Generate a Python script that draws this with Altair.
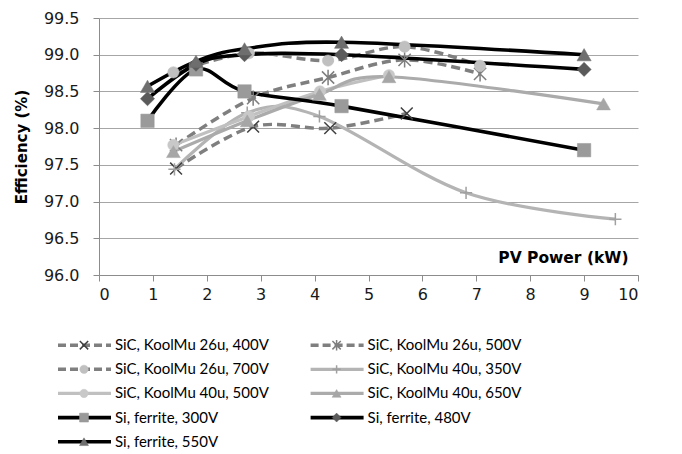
import altair as alt
import pandas as pd

# ---------------- data ----------------
names = [
    "SiC, KoolMu 26u, 400V", "SiC, KoolMu 26u, 500V",
    "SiC, KoolMu 26u, 700V", "SiC, KoolMu 40u, 350V",
    "SiC, KoolMu 40u, 500V", "SiC, KoolMu 40u, 650V",
    "Si, ferrite, 300V", "Si, ferrite, 480V",
    "Si, ferrite, 550V",
]

sic26_400_x = [1.43, 2.86, 4.29, 5.71]
sic26_400_y = [97.45, 98.02, 98.00, 98.20]
sic26_500_x = [1.43, 2.86, 4.25, 5.67, 7.07]
sic26_500_y = [97.77, 98.41, 98.69, 98.93, 98.74]
sic26_700_x = [1.38, 2.78, 4.25, 5.67, 7.07]
sic26_700_y = [98.76, 99.02, 98.92, 99.11, 98.85]
sic40_350_x = [1.40, 2.75, 4.09, 6.81, 9.58]
sic40_350_y = [97.44, 98.21, 98.16, 97.12, 96.76]
sic40_500_x = [1.38, 2.78, 4.10, 5.38]
sic40_500_y = [97.77, 98.16, 98.50, 98.72]
sic40_650_x = [1.38, 2.75, 4.09, 5.38, 9.36]
sic40_650_y = [97.68, 98.10, 98.46, 98.70, 98.33]
si_x = [0.9, 1.8, 2.7, 4.5, 9.0]
si_300_y = [98.10, 98.80, 98.50, 98.30, 97.70]
si_480_y = [98.40, 98.87, 99.00, 99.00, 98.80]
si_550_y = [98.57, 98.91, 99.08, 99.17, 99.00]

series_xy = [
    (sic26_400_x, sic26_400_y), (sic26_500_x, sic26_500_y),
    (sic26_700_x, sic26_700_y), (sic40_350_x, sic40_350_y),
    (sic40_500_x, sic40_500_y), (sic40_650_x, sic40_650_y),
    (si_x, si_300_y), (si_x, si_480_y), (si_x, si_550_y),
]

x_ticks = list(range(0, 11))
y_ticks = [96.0, 96.5, 97.0, 97.5, 98.0, 98.5, 99.0, 99.5]

# ---------------- styles ----------------
X_PATH = "M-1,-1L1,1M-1,1L1,-1"
AST_PATH = "M-1,-1L1,1M-1,1L1,-1M0,-1.25L0,1.25"
PLUS_PATH = "M-1,0L1,0M0,-1L0,1"
DASH = [9, 5]

styles = [
    dict(line="#7f7f7f", dash=DASH, width=3.5, shape=X_PATH, stroke="#404040", size=140, lsize=70),
    dict(line="#7f7f7f", dash=DASH, width=3.5, shape=AST_PATH, stroke="#7f7f7f", size=150, lsize=70),
    dict(line="#7f7f7f", dash=DASH, width=3.5, shape="circle", fill="#c0c0c0", size=130, lsize=70),
    dict(line="#b4b4b4", width=3.2, shape=PLUS_PATH, stroke="#a0a0a0", size=150, lsize=70),
    dict(line="#c0c0c0", width=3.2, shape="circle", fill="#c8c8c8", size=130, lsize=70),
    dict(line="#ababab", width=3.2, shape="triangle-up", fill="#a6a6a6", size=190, lsize=80),
    dict(line="#000000", width=3.6, shape="square", fill="#9a9a9a", size=180, lsize=80),
    dict(line="#000000", width=3.6, shape="diamond", fill="#5a5a5a", size=200, lsize=80),
    dict(line="#000000", width=3.6, shape="triangle-up", fill="#6e6e6e", size=200, lsize=80),
]

FONT = "Lato"
TICKFONT = "DejaVu Sans"
TITLEFONT = "DejaVu Sans"
AX = "#8c8c8c"

x_enc = alt.X(
    "x:Q",
    scale=alt.Scale(domain=[0, 10], nice=False),
    axis=alt.Axis(
        values=x_ticks, format="d", grid=False, tickSize=6, tickColor=AX,
        domainColor=AX, labelFont=TICKFONT, labelFontSize=16, labelColor="#1a1a1a",
        labelPadding=5, title="PV Power (kW)", titleFont=TITLEFONT, titleFontSize=15.5,
        titleFontWeight="bold", titleColor="#000000", titleX=529, titleY=-13,
        titleAlign="right", titleBaseline="alphabetic",
    ),
)
y_enc = alt.Y(
    "y:Q",
    scale=alt.Scale(domain=[96, 99.5], nice=False, zero=False),
    axis=alt.Axis(
        values=y_ticks, format=".1f", grid=True, gridColor="#a6a6a6",
        tickSize=6, tickColor=AX, domainColor=AX, labelFont=TICKFONT,
        labelFontSize=16, labelColor="#1a1a1a", labelPadding=14,
        title="Efficiency (%)", titleFont=TITLEFONT, titleFontSize=15,
        titleFontWeight="bold", titleColor="#000000", titleX=-78,
        titleAngle=-90, titleBaseline="middle", titleAlign="center",
    ),
)

lx = alt.X("col:Q", scale=alt.Scale(domain=[0, 1], range=[-15, 237.6]), axis=None)
ly = alt.Y("row:Q", scale=alt.Scale(domain=[0, 4], range=[327.2, 423.7]), axis=None)


def point_mark(st, size):
    if "fill" in st:
        return dict(shape=st["shape"], filled=True, fill=st["fill"], stroke=st["fill"],
                    strokeWidth=0.5, size=size, opacity=1)
    return dict(shape=st["shape"], filled=False, stroke=st["stroke"],
                strokeWidth=1.5, size=size, opacity=1)


line_layers, point_layers, legend_layers = [], [], []
for i, (name, (xs, ys)) in enumerate(zip(names, series_xy)):
    st = styles[i]
    df = pd.DataFrame({"x": xs, "y": ys, "series": name})
    lkw = dict(interpolate="cardinal", color=st["line"], strokeWidth=st["width"])
    if "dash" in st:
        lkw["strokeDash"] = st["dash"]
    line_layers.append(alt.Chart(df).mark_line(**lkw).encode(x=x_enc, y=y_enc))
    point_layers.append(alt.Chart(df).mark_point(**point_mark(st, st["size"])).encode(x=x_enc, y=y_enc))

    ldf = pd.DataFrame({"col": [i % 2], "row": [i // 2], "label": [name]})
    rkw = dict(color=st["line"], strokeWidth=st["width"], xOffset=-26, x2Offset=27)
    if "dash" in st:
        rkw["strokeDash"] = [8, 4]
    lc = alt.Chart(ldf)
    legend_layers.append(lc.mark_rule(**rkw).encode(x=lx, x2="col:Q", y=ly))
    legend_layers.append(lc.mark_point(**point_mark(st, st["lsize"])).encode(x=lx, y=ly))
    legend_layers.append(
        lc.mark_text(align="left", baseline="middle", dx=31, font=FONT, fontSize=15,
                     color="#000000").encode(x=lx, y=ly, text="label:N")
    )

main = alt.layer(*line_layers, *point_layers)
legend = alt.layer(*legend_layers)

chart = (
    alt.layer(main, legend)
    .resolve_scale(x="independent", y="independent")
    .properties(width=539, height=257, padding={"left": 5, "top": 2, "right": 5, "bottom": 2})
    .configure_view(strokeWidth=0)
)

chart.save("out.html", embed_options={"renderer": "svg", "actions": False})
